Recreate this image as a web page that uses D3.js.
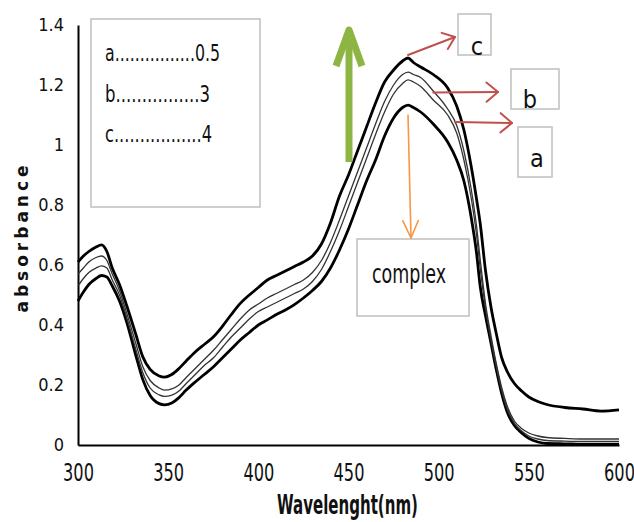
<!DOCTYPE html>
<html>
<head>
<meta charset="utf-8">
<script src="https://cdn.jsdelivr.net/npm/d3@7"></script>
<style>
  body { margin: 0; background: #fff; }
  svg { display: block; }
</style>
</head>
<body>
<div class="chart"><svg></svg></div>
<script>
// spectra (absorbance vs wavelength, nm)
const wavelengths = [300,303,306,310,313,316,319,323,327,332,336,340,345,348,352,356,360,365,370,375,
  380,385,390,395,400,405,410,415,420,425,430,435,440,445,450,455,460,465,470,475,
  480,483,486,490,497,505,510,514,518,521,523,526,529,532,535,538,542,546,550,555,
  560,570,580,590,600];

const absC = [0.61,0.63,0.645,0.66,0.667,0.645,0.59,0.535,0.465,0.37,0.293,0.252,0.23,0.226,0.235,0.255,0.28,0.31,0.335,0.36,
  0.395,0.435,0.472,0.5,0.525,0.55,0.565,0.58,0.595,0.61,0.63,0.67,0.74,0.83,0.9,0.98,1.06,1.14,1.21,1.25,
  1.28,1.29,1.275,1.26,1.235,1.19,1.13,1.05,0.93,0.82,0.74,0.58,0.46,0.37,0.29,0.245,0.205,0.18,0.16,0.145,
  0.135,0.125,0.12,0.113,0.117];

const absB = [0.57,0.59,0.61,0.625,0.63,0.615,0.57,0.515,0.44,0.34,0.26,0.215,0.19,0.183,0.187,0.2,0.225,0.255,0.285,0.315,
  0.35,0.385,0.42,0.45,0.47,0.49,0.505,0.52,0.535,0.55,0.575,0.615,0.675,0.75,0.83,0.91,0.99,1.07,1.145,1.2,
  1.235,1.243,1.235,1.225,1.18,1.12,1.065,0.98,0.855,0.73,0.62,0.47,0.365,0.27,0.19,0.13,0.08,0.055,0.04,0.03,
  0.025,0.022,0.02,0.02,0.02];

const absA = [0.53,0.555,0.575,0.59,0.597,0.59,0.55,0.5,0.425,0.32,0.24,0.19,0.167,0.162,0.166,0.18,0.205,0.235,0.265,0.29,
  0.325,0.36,0.39,0.42,0.445,0.46,0.475,0.49,0.505,0.52,0.545,0.585,0.645,0.715,0.795,0.875,0.955,1.035,1.11,1.17,
  1.205,1.217,1.21,1.195,1.15,1.1,1.04,0.95,0.825,0.7,0.59,0.455,0.35,0.26,0.18,0.12,0.072,0.047,0.03,0.02,
  0.015,0.013,0.012,0.012,0.012];

const absComplex = [0.48,0.51,0.535,0.555,0.565,0.56,0.53,0.48,0.41,0.3,0.217,0.165,0.138,0.134,0.14,0.158,0.183,0.21,0.235,0.26,
  0.29,0.32,0.35,0.375,0.4,0.417,0.435,0.45,0.468,0.49,0.515,0.545,0.59,0.65,0.72,0.8,0.88,0.95,1.03,1.09,
  1.125,1.133,1.125,1.11,1.07,1.01,0.95,0.88,0.76,0.64,0.53,0.43,0.34,0.25,0.17,0.11,0.065,0.04,0.022,0.01,
  0.005,0.004,0.003,0.003,0.003];

const xTicks = [300,350,400,450,500,550,600];
const yTicks = [0,0.2,0.4,0.6,0.8,1,1.2,1.4];
const yTickLabels = ["0","0.2","0.4","0.6","0.8","1","1.2","1.4"];
const legendLines = ["a................0.5", "b................3", "c.................4"];
const legendWidths = [115, 105, 107];

width = 634;
height = 522;
margin = ({top: 25, right: 15, bottom: 77, left: 78});

const narrow = "'Liberation Sans Narrow', 'DejaVu Sans Condensed', sans-serif";

var drawChart = () => {
  x = d3.scaleLinear()
    .domain([300, 600])
    .range([margin.left, width - margin.right]);

  y = d3.scaleLinear()
    .domain([0, 1.4])
    .range([height - margin.bottom, margin.top]);

  const svg = d3.select(".chart > svg")
    .attr("width", width)
    .attr("height", height)
    .attr("viewBox", [0, 0, width, height]);

  // axes
  svg.append("g")
    .attr("class", "x-axis")
    .attr("transform", `translate(0,${y(0)})`)
    .call(d3.axisBottom(x).tickValues(xTicks).tickSize(0).tickFormat(d => d))
    .call(g => g.select(".domain").attr("stroke", "#000").attr("stroke-width", 2))
    .call(g => g.selectAll("text")
      .attr("y", null).attr("dy", null)
      .attr("transform", "translate(0,36) scale(0.9,1.2)")
      .attr("fill", "#111")
      .style("font", `20px ${narrow}`));

  svg.append("g")
    .attr("class", "y-axis")
    .attr("transform", `translate(${margin.left},0)`)
    .call(d3.axisLeft(y).tickValues(yTicks).tickSize(0).tickPadding(14)
      .tickFormat((d, i) => yTickLabels[i]))
    .call(g => g.select(".domain").attr("stroke", "#000").attr("stroke-width", 2))
    .call(g => g.selectAll("text")
      .attr("fill", "#111")
      .style("font", `18px ${narrow}`));

  // spectra
  const series = [
    {name: "complex", values: absComplex, color: "#000", w: 2.8},
    {name: "a", values: absA, color: "#333", w: 1.3},
    {name: "b", values: absB, color: "#333", w: 1.3},
    {name: "c", values: absC, color: "#000", w: 2.8}
  ];

  const line = d3.line()
    .x((d, i) => x(wavelengths[i]))
    .y(d => y(d))
    .curve(d3.curveMonotoneX);

  svg.append("g")
    .attr("class", "lines")
    .attr("fill", "none")
    .selectAll("path")
    .data(series)
    .join("path")
      .attr("stroke", d => d.color)
      .attr("stroke-width", d => d.w)
      .attr("stroke-linejoin", "round")
      .attr("d", d => line(d.values));

  // axis titles
  svg.append("text")
    .attr("transform", "translate(277,514) scale(1,1.2)")
    .attr("textLength", 141)
    .attr("lengthAdjust", "spacingAndGlyphs")
    .attr("fill", "#111")
    .style("font", `bold 22px ${narrow}`)
    .text("Wavelenght(nm)");

  svg.append("text")
    .attr("transform", "translate(28,237) rotate(-90)")
    .attr("text-anchor", "middle")
    .attr("fill", "#111")
    .style("font", "bold 17px 'DejaVu Sans', sans-serif")
    .style("letter-spacing", "4px")
    .text("absorbance");

  // legend box
  const boxStroke = "#bfbfbf";
  svg.append("rect")
    .attr("x", 91).attr("y", 19).attr("width", 169).attr("height", 188)
    .attr("fill", "none").attr("stroke", boxStroke).attr("stroke-width", 1.5);

  svg.append("g")
    .selectAll("text")
    .data(legendLines)
    .join("text")
      .attr("x", 105)
      .attr("y", (d, i) => 61 + i * 40.5)
      .attr("textLength", (d, i) => legendWidths[i])
      .attr("lengthAdjust", "spacingAndGlyphs")
      .attr("fill", "#111")
      .style("font", `23px ${narrow}`)
      .text(d => d);

  // label boxes
  const labels = [
    {text: "c", bx: 458, by: 14, bw: 33, bh: 41, tx: 477, ty: 55},
    {text: "b", bx: 511, by: 69, bw: 48, bh: 40, tx: 530, ty: 108},
    {text: "a", bx: 518, by: 127, bw: 34, bh: 50, tx: 537, ty: 167},
    {text: "complex", bx: 357, by: 239, bw: 112, bh: 77, tx: 372, ty: 283, len: 74}
  ];
  const lg = svg.append("g").attr("class", "labels");
  lg.selectAll("rect")
    .data(labels)
    .join("rect")
      .attr("x", d => d.bx).attr("y", d => d.by)
      .attr("width", d => d.bw).attr("height", d => d.bh)
      .attr("fill", "none").attr("stroke", boxStroke).attr("stroke-width", 1.5);
  lg.selectAll("text")
    .data(labels)
    .join("text")
      .attr("x", d => d.tx)
      .attr("y", d => d.ty)
      .attr("text-anchor", d => d.len ? "start" : "middle")
      .attr("textLength", d => d.len || null)
      .attr("lengthAdjust", "spacingAndGlyphs")
      .attr("fill", "#111")
      .style("font", d => `${d.len ? 26 : 25}px ${narrow}`)
      .text(d => d.text);

  // arrows
  arrow(svg, x(483), y(1.30), 455, 37, "#c0504d", 2, 14, 38);
  arrow(svg, x(497), y(1.175), 498, 92, "#c0504d", 2, 15, 40);
  arrow(svg, x(509), y(1.077), 512, 123, "#c0504d", 2, 15, 40);
  arrow(svg, x(483), y(1.10), 411, 238, "#f79646", 1.6, 19, 24);

  // green "increase" arrow
  const green = "#8db543";
  svg.append("line")
    .attr("x1", 349).attr("y1", 162).attr("x2", 349).attr("y2", 40)
    .attr("stroke", green).attr("stroke-width", 7);
  svg.append("path")
    .attr("d", "M336,66 L349,30 L362,66")
    .attr("fill", "none").attr("stroke", green).attr("stroke-width", 7)
    .attr("stroke-linejoin", "round");
}

function arrow(svg, x1, y1, x2, y2, color, w, len, angle) {
  const a = Math.atan2(y2 - y1, x2 - x1);
  const t = angle * Math.PI / 180;
  const p1 = [x2 - len * Math.cos(a - t), y2 - len * Math.sin(a - t)];
  const p2 = [x2 - len * Math.cos(a + t), y2 - len * Math.sin(a + t)];
  const g = svg.append("g")
    .attr("fill", "none").attr("stroke", color).attr("stroke-width", w)
    .attr("stroke-linecap", "round").attr("stroke-linejoin", "round");
  g.append("line").attr("x1", x1).attr("y1", y1).attr("x2", x2).attr("y2", y2);
  g.append("path").attr("d", `M${p1[0]},${p1[1]} L${x2},${y2} L${p2[0]},${p2[1]}`);
}

drawChart();
</script>
</body>
</html>
